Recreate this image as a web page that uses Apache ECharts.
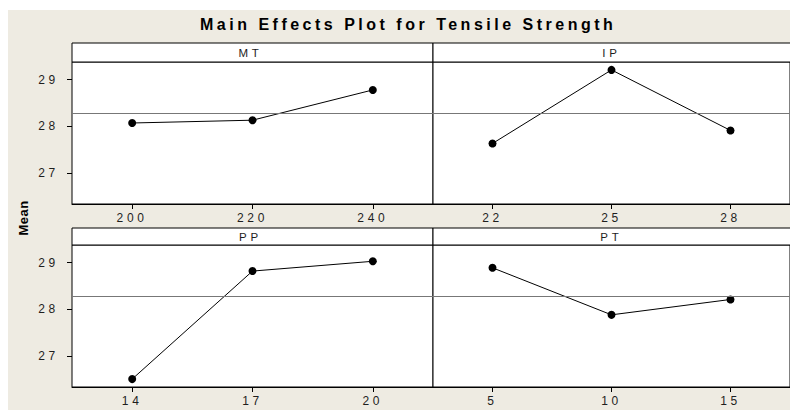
<!DOCTYPE html>
<html>
<head>
<meta charset="utf-8">
<script src="https://cdn.jsdelivr.net/npm/echarts@6/dist/echarts.min.js"></script>
<style>
  html, body { margin: 0; padding: 0; background: #fff; }
  #chart { width: 790px; height: 410px; }
</style>
</head>
<body>
<div id="chart"></div>
<script>
// ---- data ----
const chartTitle = 'Main Effects Plot for Tensile Strength';
const yName = 'Mean';
const factors = ['MT', 'IP', 'PP', 'PT'];
const levelsMT = ['200', '220', '240'];
const levelsIP = ['22', '25', '28'];
const levelsPP = ['14', '17', '20'];
const levelsPT = ['5', '10', '15'];
const meansMT = [28.07, 28.13, 28.78];
const meansIP = [27.63, 29.21, 27.91];
const meansPP = [26.50, 28.82, 29.03];
const meansPT = [28.89, 27.88, 28.21];
const grandMean = 28.27;
const yTicks = [27, 28, 29];
const yMin = 26.33, yMax = 29.38;

// ---- layout ----
const levels = [levelsMT, levelsIP, levelsPP, levelsPT];
const means = [meansMT, meansIP, meansPP, meansPT];
const panelLeft = [72, 433, 72, 433];
const panelTop = [62, 62, 245, 245];
const stripTop = [43, 43, 228, 228];
const panelW = 361, panelH = 142;
const font = '"Liberation Sans", Arial, sans-serif';
const textColor = '#1e1e1e';

const grids = [], xAxes = [], yAxes = [], series = [], graphics = [];

graphics.push({
  type: 'rect', z: -100, silent: true,
  shape: { x: 8, y: 10, width: 790, height: 410 },
  style: { fill: '#EEEBE2' }
});

for (let i = 0; i < 4; i++) {
  const showY = (i % 2 === 0);
  grids.push({
    left: panelLeft[i], top: panelTop[i], width: panelW, height: panelH,
    show: true, backgroundColor: '#fff', borderColor: '#000', borderWidth: 1
  });
  xAxes.push({
    type: 'category', gridIndex: i, data: levels[i], boundaryGap: true,
    axisLine: { show: true, lineStyle: { color: '#000', width: 1 } },
    axisTick: { show: true, alignWithLabel: true, length: 5, lineStyle: { color: '#000' } },
    axisLabel: { margin: 8, fontSize: 12, color: textColor, fontFamily: font },
    splitLine: { show: false }
  });
  yAxes.push({
    type: 'value', gridIndex: i, min: yMin, max: yMax,
    axisLine: { show: false },
    axisTick: { show: showY, length: 5, customValues: yTicks, lineStyle: { color: '#000' } },
    axisLabel: { show: showY, margin: 13, fontSize: 12, color: textColor, fontFamily: font, customValues: yTicks },
    splitLine: { show: false }
  });
  series.push({
    type: 'line', xAxisIndex: i, yAxisIndex: i, data: means[i],
    symbol: 'circle', symbolSize: 8,
    itemStyle: { color: '#000' },
    lineStyle: { color: '#000', width: 1 },
    animation: false,
    markLine: {
      silent: true, symbol: ['none', 'none'], label: { show: false },
      lineStyle: { color: '#777', width: 1, type: 'solid' },
      data: [{ yAxis: grandMean }]
    }
  });
  graphics.push({
    type: 'rect', z: 5, silent: true,
    shape: { x: panelLeft[i], y: stripTop[i], width: panelW, height: panelTop[i] - stripTop[i] },
    style: { fill: '#fff', stroke: '#000', lineWidth: 1 }
  });
  graphics.push({
    type: 'text', z: 6, silent: true,
    x: panelLeft[i] + panelW / 2 - 2, y: (stripTop[i] + panelTop[i]) / 2 + 0.5,
    style: { text: factors[i], fill: textColor, font: '11.5px ' + font, textAlign: 'center', textVerticalAlign: 'middle' }
  });
}

graphics.push({
  type: 'text', z: 6, silent: true, rotation: Math.PI / 2,
  x: 23, y: 218,
  style: { text: yName, fill: '#000', font: 'bold 13px ' + font, textAlign: 'center', textVerticalAlign: 'middle' }
});

const chart = echarts.init(document.getElementById('chart'), null, { renderer: 'svg' });
chart.setOption({
  backgroundColor: '#fff',
  animation: false,
  title: {
    text: chartTitle, left: 200, top: 16, padding: 0,
    textStyle: { fontSize: 16, fontWeight: 'bold', color: '#000', fontFamily: font }
  },
  grid: grids, xAxis: xAxes, yAxis: yAxes, series: series, graphic: graphics
});

function applySpacing() {
  document.querySelectorAll('#chart svg text').forEach(function (t) {
    const s = t.textContent;
    let sp = '3.7px';
    if (s === chartTitle) sp = '3.5px';
    else if (s === yName) sp = '0.5px';
    else if (factors.indexOf(s) >= 0) sp = '3.8px';
    t.style.letterSpacing = sp;
  });
}
applySpacing();
chart.on('finished', applySpacing);
</script>
</body>
</html>
